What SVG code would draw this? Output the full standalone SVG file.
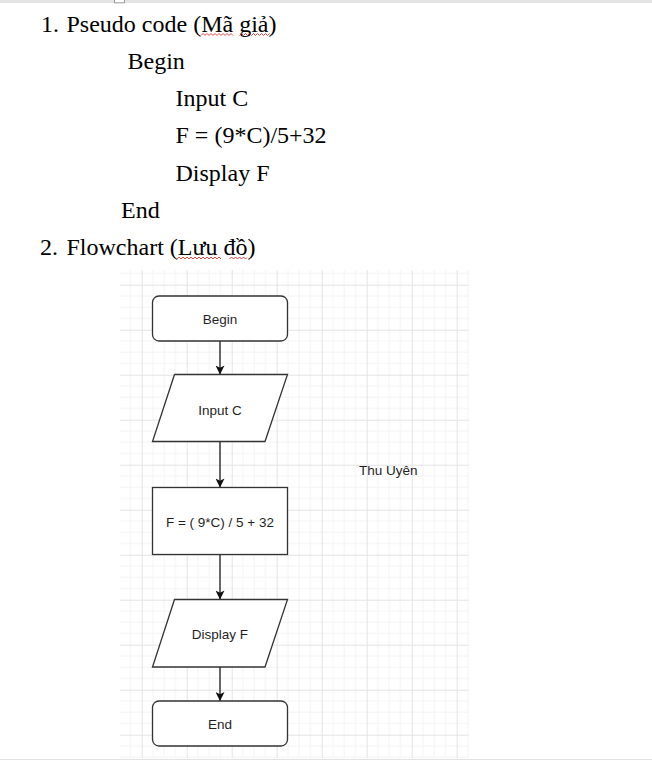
<svg xmlns="http://www.w3.org/2000/svg" width="652" height="760" viewBox="0 0 652 760">
  <style>
    .doc { font-family: "Liberation Serif", "Times New Roman", serif; font-size: 24px; fill: #000; }
    .lbl { font-family: "Liberation Sans", Arial, sans-serif; font-size: 13.5px; fill: #1f1f1f; text-anchor: middle; }
    .shape { fill: #ffffff; stroke: #333333; stroke-width: 1.3; }
    .edge { fill: none; stroke: #1a1a1a; stroke-width: 1.3; }
    .squig { fill: none; stroke: #e0312f; stroke-width: 0.9; }
    .gmin { stroke: #f3f3f3; stroke-width: 1; }
    .gmaj { stroke: #e4e4e4; stroke-width: 1; }
  </style>
  <defs>
    <pattern id="grid" x="96.7" y="239.7" width="45" height="45" patternUnits="userSpaceOnUse">
      <line class="gmin" x1="11.25" y1="0" x2="11.25" y2="45"/>
      <line class="gmin" x1="22.5" y1="0" x2="22.5" y2="45"/>
      <line class="gmin" x1="33.75" y1="0" x2="33.75" y2="45"/>
      <line class="gmin" x1="0" y1="11.25" x2="45" y2="11.25"/>
      <line class="gmin" x1="0" y1="22.5" x2="45" y2="22.5"/>
      <line class="gmin" x1="0" y1="33.75" x2="45" y2="33.75"/>
      <line class="gmaj" x1="0.5" y1="0" x2="0.5" y2="45"/>
      <line class="gmaj" x1="0" y1="0.5" x2="45" y2="0.5"/>
    </pattern>
    <marker id="arr" viewBox="0 0 10 10" refX="10" refY="5" markerWidth="9.5" markerHeight="9" markerUnits="userSpaceOnUse" orient="auto">
      <path d="M0,0 L10,5 L0,10 L2.5,5 z" fill="#111111"/>
    </marker>
  </defs>

  <rect x="0" y="0" width="652" height="760" fill="#ffffff"/>
  <rect x="0" y="0" width="652" height="3" fill="#e4e4e4"/>
  <rect x="114.5" y="-0.5" width="10" height="3.3" fill="#ffffff" stroke="#9a9a9a" stroke-width="1"/>
  <rect x="0" y="759" width="652" height="1" fill="#e2e2e2"/>

  <!-- Pseudo code text -->
  <g id="pseudo">
    <text class="doc" x="41" y="32">1.</text>
    <text class="doc" x="66.5" y="32">Pseudo code (Mã giả)</text>
    <text class="doc" x="127.5" y="69">Begin</text>
    <text class="doc" x="175.5" y="106">Input C</text>
    <text class="doc" x="175.5" y="143">F = (9*C)/5+32</text>
    <text class="doc" x="175.5" y="180.5">Display F</text>
    <text class="doc" x="121" y="217.5">End</text>
    <text class="doc" x="40" y="255">2.</text>
    <text class="doc" x="66.5" y="255">Flowchart (Lưu đồ)</text>
    <path class="squig" d="M201,35.5 l2-2 l2,2 l2-2 l2,2 l2-2 l2,2 l2-2 l2,2 l2-2 l2,2 l2-2 l2,2 l2-2 l2,2 l2-2 l2,2"/>
    <path class="squig" d="M239.5,35.5 l2-2 l2,2 l2-2 l2,2 l2-2 l2,2 l2-2 l2,2 l2-2 l2,2 l2-2 l2,2 l2-2 l2,2 l2-2"/>
    <path class="squig" d="M177,259 l2-2 l2,2 l2-2 l2,2 l2-2 l2,2 l2-2 l2,2 l2-2 l2,2 l2-2 l2,2 l2-2 l2,2 l2-2 l2,2 l2-2 l2,2 l2-2 l2,2 l2-2 l2,2"/>
    <path class="squig" d="M229.5,259 l2-2 l2,2 l2-2 l2,2 l2-2 l2,2 l2-2 l2,2 l1.5-1.5"/>
  </g>

  <!-- Grid canvas -->
  <rect x="120" y="270" width="349" height="488" fill="url(#grid)"/>

  <!-- Connectors -->
  <g id="connectors">
    <line class="edge" x1="220" y1="341" x2="220" y2="374.5" marker-end="url(#arr)"/>
    <line class="edge" x1="220" y1="441.5" x2="220" y2="487.5" marker-end="url(#arr)"/>
    <line class="edge" x1="220" y1="554.5" x2="220" y2="599.5" marker-end="url(#arr)"/>
    <line class="edge" x1="220" y1="667" x2="220" y2="701" marker-end="url(#arr)"/>
  </g>

  <g id="begin">
    <rect class="shape" x="152.5" y="296" width="135" height="45" rx="6.5"/>
    <text class="lbl" x="220" y="323.5">Begin</text>
  </g>
  <g id="input">
    <polygon class="shape" points="174.5,374.5 287.5,374.5 265,441.5 152.5,441.5"/>
    <text class="lbl" x="220" y="414.5">Input C</text>
  </g>
  <g id="process">
    <rect class="shape" x="152.5" y="487.5" width="135" height="67"/>
    <text class="lbl" x="220" y="526.5">F = ( 9*C) / 5 + 32</text>
  </g>
  <g id="display">
    <polygon class="shape" points="174.5,599.5 287.5,599.5 265,667 152.5,667"/>
    <text class="lbl" x="220" y="639">Display F</text>
  </g>
  <g id="end">
    <rect class="shape" x="152.5" y="701" width="135" height="45" rx="6.5"/>
    <text class="lbl" x="220" y="728.5">End</text>
  </g>
  <g id="author">
    <text class="lbl" x="388.3" y="475">Thu Uyên</text>
  </g>
</svg>
